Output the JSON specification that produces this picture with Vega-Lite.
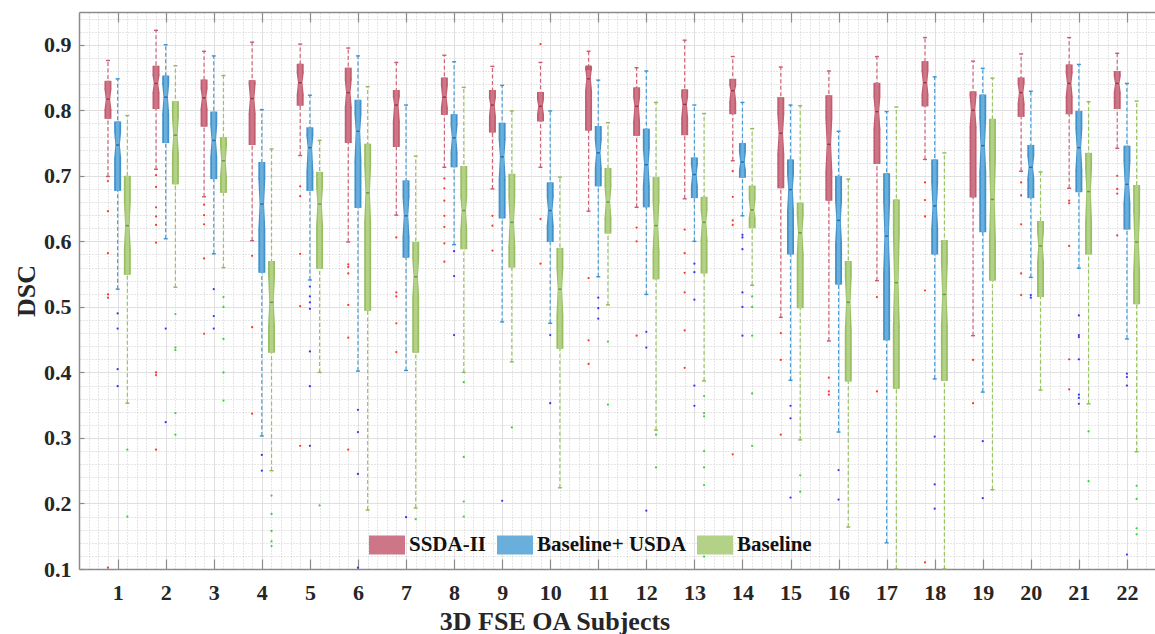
{
"$schema":"https://vega.github.io/schema/vega-lite/v6.json",
"width":1076,"height":557,
"autosize":{"type":"none"},
"padding":{"left":79,"top":12,"right":0,"bottom":65},
"background":"white",
"config":{"view":{"stroke":null},"font":"Liberation Serif"},
"datasets":{
"boxes":[
{"subject":1,"group":"SSDA-II","wlo":0.699,"q1":0.787,"nlo":0.801,"med":0.817,"nhi":0.832,"q3":0.845,"whi":0.876},
{"subject":1,"group":"Baseline+ USDA","wlo":0.527,"q1":0.677,"nlo":0.727,"med":0.747,"nhi":0.767,"q3":0.783,"whi":0.848},
{"subject":1,"group":"Baseline","wlo":0.353,"q1":0.549,"nlo":0.588,"med":0.624,"nhi":0.662,"q3":0.700,"whi":0.792},
{"subject":2,"group":"SSDA-II","wlo":0.710,"q1":0.802,"nlo":0.827,"med":0.841,"nhi":0.853,"q3":0.868,"whi":0.922},
{"subject":2,"group":"Baseline+ USDA","wlo":0.604,"q1":0.750,"nlo":0.794,"med":0.820,"nhi":0.840,"q3":0.853,"whi":0.900},
{"subject":2,"group":"Baseline","wlo":0.530,"q1":0.687,"nlo":0.733,"med":0.762,"nhi":0.790,"q3":0.814,"whi":0.868},
{"subject":3,"group":"SSDA-II","wlo":0.668,"q1":0.775,"nlo":0.802,"med":0.819,"nhi":0.833,"q3":0.847,"whi":0.890},
{"subject":3,"group":"Baseline+ USDA","wlo":0.581,"q1":0.695,"nlo":0.728,"med":0.754,"nhi":0.778,"q3":0.798,"whi":0.883},
{"subject":3,"group":"Baseline","wlo":0.560,"q1":0.674,"nlo":0.698,"med":0.723,"nhi":0.745,"q3":0.759,"whi":0.853},
{"subject":4,"group":"SSDA-II","wlo":0.601,"q1":0.747,"nlo":0.795,"med":0.818,"nhi":0.840,"q3":0.846,"whi":0.904},
{"subject":4,"group":"Baseline+ USDA","wlo":0.303,"q1":0.552,"nlo":0.618,"med":0.657,"nhi":0.695,"q3":0.721,"whi":0.801},
{"subject":4,"group":"Baseline","wlo":0.250,"q1":0.430,"nlo":0.470,"med":0.507,"nhi":0.547,"q3":0.570,"whi":0.741},
{"subject":5,"group":"SSDA-II","wlo":0.731,"q1":0.807,"nlo":0.824,"med":0.842,"nhi":0.857,"q3":0.871,"whi":0.901},
{"subject":5,"group":"Baseline+ USDA","wlo":0.541,"q1":0.677,"nlo":0.706,"med":0.743,"nhi":0.761,"q3":0.774,"whi":0.823},
{"subject":5,"group":"Baseline","wlo":0.400,"q1":0.558,"nlo":0.624,"med":0.657,"nhi":0.684,"q3":0.706,"whi":0.754},
{"subject":6,"group":"SSDA-II","wlo":0.599,"q1":0.750,"nlo":0.805,"med":0.827,"nhi":0.846,"q3":0.865,"whi":0.895},
{"subject":6,"group":"Baseline+ USDA","wlo":0.402,"q1":0.651,"nlo":0.723,"med":0.768,"nhi":0.794,"q3":0.816,"whi":0.883},
{"subject":6,"group":"Baseline","wlo":0.190,"q1":0.494,"nlo":0.629,"med":0.674,"nhi":0.717,"q3":0.749,"whi":0.836},
{"subject":7,"group":"SSDA-II","wlo":0.640,"q1":0.744,"nlo":0.783,"med":0.808,"nhi":0.821,"q3":0.831,"whi":0.873},
{"subject":7,"group":"Baseline+ USDA","wlo":0.403,"q1":0.575,"nlo":0.607,"med":0.639,"nhi":0.668,"q3":0.693,"whi":0.808},
{"subject":7,"group":"Baseline","wlo":0.193,"q1":0.430,"nlo":0.514,"med":0.546,"nhi":0.574,"q3":0.599,"whi":0.730},
{"subject":8,"group":"SSDA-II","wlo":0.713,"q1":0.793,"nlo":0.804,"med":0.820,"nhi":0.838,"q3":0.850,"whi":0.884},
{"subject":8,"group":"Baseline+ USDA","wlo":0.595,"q1":0.713,"nlo":0.736,"med":0.758,"nhi":0.777,"q3":0.794,"whi":0.874},
{"subject":8,"group":"Baseline","wlo":0.400,"q1":0.588,"nlo":0.617,"med":0.647,"nhi":0.668,"q3":0.715,"whi":0.835},
{"subject":9,"group":"SSDA-II","wlo":0.680,"q1":0.766,"nlo":0.791,"med":0.808,"nhi":0.819,"q3":0.831,"whi":0.867},
{"subject":9,"group":"Baseline+ USDA","wlo":0.477,"q1":0.635,"nlo":0.695,"med":0.729,"nhi":0.755,"q3":0.781,"whi":0.838},
{"subject":9,"group":"Baseline","wlo":0.416,"q1":0.560,"nlo":0.591,"med":0.629,"nhi":0.668,"q3":0.703,"whi":0.799},
{"subject":10,"group":"SSDA-II","wlo":0.713,"q1":0.783,"nlo":0.794,"med":0.806,"nhi":0.816,"q3":0.828,"whi":0.873},
{"subject":10,"group":"Baseline+ USDA","wlo":0.475,"q1":0.599,"nlo":0.624,"med":0.647,"nhi":0.668,"q3":0.690,"whi":0.799},
{"subject":10,"group":"Baseline","wlo":0.224,"q1":0.436,"nlo":0.486,"med":0.527,"nhi":0.560,"q3":0.590,"whi":0.698},
{"subject":11,"group":"SSDA-II","wlo":0.646,"q1":0.769,"nlo":0.830,"med":0.848,"nhi":0.866,"q3":0.861,"whi":0.890},
{"subject":11,"group":"Baseline+ USDA","wlo":0.546,"q1":0.684,"nlo":0.712,"med":0.735,"nhi":0.755,"q3":0.776,"whi":0.846},
{"subject":11,"group":"Baseline","wlo":0.503,"q1":0.612,"nlo":0.635,"med":0.660,"nhi":0.684,"q3":0.712,"whi":0.781},
{"subject":12,"group":"SSDA-II","wlo":0.652,"q1":0.761,"nlo":0.782,"med":0.806,"nhi":0.820,"q3":0.835,"whi":0.865},
{"subject":12,"group":"Baseline+ USDA","wlo":0.519,"q1":0.652,"nlo":0.684,"med":0.717,"nhi":0.742,"q3":0.772,"whi":0.860},
{"subject":12,"group":"Baseline","wlo":0.312,"q1":0.542,"nlo":0.585,"med":0.624,"nhi":0.662,"q3":0.698,"whi":0.812},
{"subject":13,"group":"SSDA-II","wlo":0.665,"q1":0.762,"nlo":0.788,"med":0.809,"nhi":0.821,"q3":0.832,"whi":0.907},
{"subject":13,"group":"Baseline+ USDA","wlo":0.600,"q1":0.666,"nlo":0.684,"med":0.702,"nhi":0.717,"q3":0.728,"whi":0.808},
{"subject":13,"group":"Baseline","wlo":0.387,"q1":0.551,"nlo":0.602,"med":0.629,"nhi":0.648,"q3":0.668,"whi":0.795},
{"subject":14,"group":"SSDA-II","wlo":0.723,"q1":0.794,"nlo":0.813,"med":0.830,"nhi":0.838,"q3":0.848,"whi":0.882},
{"subject":14,"group":"Baseline+ USDA","wlo":0.639,"q1":0.697,"nlo":0.709,"med":0.721,"nhi":0.736,"q3":0.750,"whi":0.812},
{"subject":14,"group":"Baseline","wlo":0.533,"q1":0.620,"nlo":0.635,"med":0.648,"nhi":0.665,"q3":0.685,"whi":0.772},
{"subject":15,"group":"SSDA-II","wlo":0.484,"q1":0.681,"nlo":0.733,"med":0.765,"nhi":0.794,"q3":0.820,"whi":0.866},
{"subject":15,"group":"Baseline+ USDA","wlo":0.388,"q1":0.580,"nlo":0.646,"med":0.679,"nhi":0.703,"q3":0.725,"whi":0.808},
{"subject":15,"group":"Baseline","wlo":0.297,"q1":0.498,"nlo":0.580,"med":0.613,"nhi":0.640,"q3":0.659,"whi":0.807},
{"subject":16,"group":"SSDA-II","wlo":0.448,"q1":0.662,"nlo":0.706,"med":0.748,"nhi":0.788,"q3":0.823,"whi":0.860},
{"subject":16,"group":"Baseline+ USDA","wlo":0.309,"q1":0.534,"nlo":0.596,"med":0.632,"nhi":0.662,"q3":0.700,"whi":0.768},
{"subject":16,"group":"Baseline","wlo":0.164,"q1":0.386,"nlo":0.464,"med":0.507,"nhi":0.547,"q3":0.570,"whi":0.695},
{"subject":17,"group":"SSDA-II","wlo":0.540,"q1":0.718,"nlo":0.772,"med":0.798,"nhi":0.821,"q3":0.842,"whi":0.882},
{"subject":17,"group":"Baseline+ USDA","wlo":0.140,"q1":0.449,"nlo":0.552,"med":0.608,"nhi":0.662,"q3":0.704,"whi":0.798},
{"subject":17,"group":"Baseline","wlo":0.100,"q1":0.375,"nlo":0.470,"med":0.537,"nhi":0.613,"q3":0.664,"whi":0.805},
{"subject":18,"group":"SSDA-II","wlo":0.725,"q1":0.806,"nlo":0.824,"med":0.842,"nhi":0.860,"q3":0.875,"whi":0.911},
{"subject":18,"group":"Baseline+ USDA","wlo":0.390,"q1":0.580,"nlo":0.618,"med":0.654,"nhi":0.690,"q3":0.725,"whi":0.851},
{"subject":18,"group":"Baseline","wlo":0.100,"q1":0.387,"nlo":0.470,"med":0.519,"nhi":0.569,"q3":0.602,"whi":0.735},
{"subject":19,"group":"SSDA-II","wlo":0.456,"q1":0.667,"nlo":0.775,"med":0.800,"nhi":0.823,"q3":0.829,"whi":0.875},
{"subject":19,"group":"Baseline+ USDA","wlo":0.370,"q1":0.614,"nlo":0.706,"med":0.746,"nhi":0.788,"q3":0.824,"whi":0.864},
{"subject":19,"group":"Baseline","wlo":0.221,"q1":0.540,"nlo":0.602,"med":0.664,"nhi":0.723,"q3":0.787,"whi":0.849},
{"subject":20,"group":"SSDA-II","wlo":0.707,"q1":0.790,"nlo":0.810,"med":0.827,"nhi":0.841,"q3":0.850,"whi":0.886},
{"subject":20,"group":"Baseline+ USDA","wlo":0.545,"q1":0.666,"nlo":0.695,"med":0.713,"nhi":0.731,"q3":0.747,"whi":0.829},
{"subject":20,"group":"Baseline","wlo":0.373,"q1":0.515,"nlo":0.569,"med":0.593,"nhi":0.615,"q3":0.631,"whi":0.706},
{"subject":21,"group":"SSDA-II","wlo":0.681,"q1":0.794,"nlo":0.821,"med":0.841,"nhi":0.857,"q3":0.870,"whi":0.911},
{"subject":21,"group":"Baseline+ USDA","wlo":0.559,"q1":0.675,"nlo":0.709,"med":0.743,"nhi":0.772,"q3":0.799,"whi":0.870},
{"subject":21,"group":"Baseline","wlo":0.352,"q1":0.580,"nlo":0.629,"med":0.676,"nhi":0.712,"q3":0.735,"whi":0.813},
{"subject":22,"group":"SSDA-II","wlo":0.742,"q1":0.802,"nlo":0.827,"med":0.841,"nhi":0.852,"q3":0.860,"whi":0.887},
{"subject":22,"group":"Baseline+ USDA","wlo":0.451,"q1":0.618,"nlo":0.657,"med":0.687,"nhi":0.723,"q3":0.746,"whi":0.841},
{"subject":22,"group":"Baseline","wlo":0.279,"q1":0.504,"nlo":0.552,"med":0.599,"nhi":0.646,"q3":0.686,"whi":0.814}
],
"outliers":[
{"subject":1,"group":"SSDA-II","v":0.692},{"subject":1,"group":"SSDA-II","v":0.646},{"subject":1,"group":"SSDA-II","v":0.582},{"subject":1,"group":"SSDA-II","v":0.519},{"subject":1,"group":"SSDA-II","v":0.514},{"subject":1,"group":"SSDA-II","v":0.102},
{"subject":1,"group":"Baseline+ USDA","v":0.490},{"subject":1,"group":"Baseline+ USDA","v":0.467},{"subject":1,"group":"Baseline+ USDA","v":0.405},{"subject":1,"group":"Baseline+ USDA","v":0.379},
{"subject":1,"group":"Baseline","v":0.282},{"subject":1,"group":"Baseline","v":0.180},
{"subject":2,"group":"SSDA-II","v":0.701},{"subject":2,"group":"SSDA-II","v":0.683},{"subject":2,"group":"SSDA-II","v":0.652},{"subject":2,"group":"SSDA-II","v":0.638},{"subject":2,"group":"SSDA-II","v":0.625},{"subject":2,"group":"SSDA-II","v":0.598},{"subject":2,"group":"SSDA-II","v":0.400},{"subject":2,"group":"SSDA-II","v":0.396},{"subject":2,"group":"SSDA-II","v":0.282},
{"subject":2,"group":"Baseline+ USDA","v":0.467},{"subject":2,"group":"Baseline+ USDA","v":0.324},
{"subject":2,"group":"Baseline","v":0.489},{"subject":2,"group":"Baseline","v":0.438},{"subject":2,"group":"Baseline","v":0.434},{"subject":2,"group":"Baseline","v":0.338},{"subject":2,"group":"Baseline","v":0.305},
{"subject":3,"group":"SSDA-II","v":0.656},{"subject":3,"group":"SSDA-II","v":0.640},{"subject":3,"group":"SSDA-II","v":0.626},{"subject":3,"group":"SSDA-II","v":0.574},{"subject":3,"group":"SSDA-II","v":0.459},
{"subject":3,"group":"Baseline+ USDA","v":0.527},{"subject":3,"group":"Baseline+ USDA","v":0.486},{"subject":3,"group":"Baseline+ USDA","v":0.467},
{"subject":3,"group":"Baseline","v":0.515},{"subject":3,"group":"Baseline","v":0.500},{"subject":3,"group":"Baseline","v":0.451},{"subject":3,"group":"Baseline","v":0.400},{"subject":3,"group":"Baseline","v":0.357},
{"subject":4,"group":"SSDA-II","v":0.578},{"subject":4,"group":"SSDA-II","v":0.469},{"subject":4,"group":"SSDA-II","v":0.337},
{"subject":4,"group":"Baseline+ USDA","v":0.274},{"subject":4,"group":"Baseline+ USDA","v":0.250},
{"subject":4,"group":"Baseline","v":0.212},{"subject":4,"group":"Baseline","v":0.184},{"subject":4,"group":"Baseline","v":0.158},{"subject":4,"group":"Baseline","v":0.142},{"subject":4,"group":"Baseline","v":0.135},
{"subject":5,"group":"SSDA-II","v":0.684},{"subject":5,"group":"SSDA-II","v":0.669},{"subject":5,"group":"SSDA-II","v":0.581},{"subject":5,"group":"SSDA-II","v":0.501},{"subject":5,"group":"SSDA-II","v":0.288},
{"subject":5,"group":"Baseline+ USDA","v":0.531},{"subject":5,"group":"Baseline+ USDA","v":0.516},{"subject":5,"group":"Baseline+ USDA","v":0.507},{"subject":5,"group":"Baseline+ USDA","v":0.497},{"subject":5,"group":"Baseline+ USDA","v":0.432},{"subject":5,"group":"Baseline+ USDA","v":0.379},{"subject":5,"group":"Baseline+ USDA","v":0.288},
{"subject":5,"group":"Baseline","v":0.197},
{"subject":6,"group":"SSDA-II","v":0.565},{"subject":6,"group":"SSDA-II","v":0.561},{"subject":6,"group":"SSDA-II","v":0.551},{"subject":6,"group":"SSDA-II","v":0.503},{"subject":6,"group":"SSDA-II","v":0.453},{"subject":6,"group":"SSDA-II","v":0.282},
{"subject":6,"group":"Baseline+ USDA","v":0.343},{"subject":6,"group":"Baseline+ USDA","v":0.309},{"subject":6,"group":"Baseline+ USDA","v":0.245},{"subject":6,"group":"Baseline+ USDA","v":0.102},
{"subject":7,"group":"SSDA-II","v":0.606},{"subject":7,"group":"SSDA-II","v":0.522},{"subject":7,"group":"SSDA-II","v":0.516},{"subject":7,"group":"SSDA-II","v":0.475},{"subject":7,"group":"SSDA-II","v":0.431},
{"subject":7,"group":"Baseline+ USDA","v":0.179},
{"subject":7,"group":"Baseline","v":0.176},
{"subject":8,"group":"SSDA-II","v":0.696},{"subject":8,"group":"SSDA-II","v":0.681},{"subject":8,"group":"SSDA-II","v":0.662},{"subject":8,"group":"SSDA-II","v":0.639},{"subject":8,"group":"SSDA-II","v":0.622},{"subject":8,"group":"SSDA-II","v":0.597},{"subject":8,"group":"SSDA-II","v":0.569},
{"subject":8,"group":"Baseline+ USDA","v":0.585},{"subject":8,"group":"Baseline+ USDA","v":0.547},{"subject":8,"group":"Baseline+ USDA","v":0.457},
{"subject":8,"group":"Baseline","v":0.385},{"subject":8,"group":"Baseline","v":0.271},{"subject":8,"group":"Baseline","v":0.203},{"subject":8,"group":"Baseline","v":0.180},
{"subject":9,"group":"SSDA-II","v":0.639},{"subject":9,"group":"SSDA-II","v":0.624},{"subject":9,"group":"SSDA-II","v":0.586},
{"subject":9,"group":"Baseline+ USDA","v":0.204},
{"subject":9,"group":"Baseline","v":0.316},
{"subject":10,"group":"SSDA-II","v":0.901},{"subject":10,"group":"SSDA-II","v":0.634},{"subject":10,"group":"SSDA-II","v":0.566},
{"subject":10,"group":"Baseline+ USDA","v":0.457},{"subject":10,"group":"Baseline+ USDA","v":0.353},
{"subject":11,"group":"SSDA-II","v":0.544},{"subject":11,"group":"SSDA-II","v":0.449},{"subject":11,"group":"SSDA-II","v":0.413},
{"subject":11,"group":"Baseline+ USDA","v":0.514},{"subject":11,"group":"Baseline+ USDA","v":0.498},{"subject":11,"group":"Baseline+ USDA","v":0.482},
{"subject":11,"group":"Baseline","v":0.447},{"subject":11,"group":"Baseline","v":0.351},
{"subject":12,"group":"SSDA-II","v":0.621},{"subject":12,"group":"SSDA-II","v":0.600},{"subject":12,"group":"SSDA-II","v":0.456},
{"subject":12,"group":"Baseline+ USDA","v":0.462},{"subject":12,"group":"Baseline+ USDA","v":0.438},{"subject":12,"group":"Baseline+ USDA","v":0.189},
{"subject":12,"group":"Baseline","v":0.305},{"subject":12,"group":"Baseline","v":0.255},
{"subject":13,"group":"SSDA-II","v":0.618},{"subject":13,"group":"SSDA-II","v":0.582},{"subject":13,"group":"SSDA-II","v":0.552},{"subject":13,"group":"SSDA-II","v":0.522},{"subject":13,"group":"SSDA-II","v":0.464},{"subject":13,"group":"SSDA-II","v":0.407},
{"subject":13,"group":"Baseline+ USDA","v":0.566},{"subject":13,"group":"Baseline+ USDA","v":0.553},{"subject":13,"group":"Baseline+ USDA","v":0.511},{"subject":13,"group":"Baseline+ USDA","v":0.380},{"subject":13,"group":"Baseline+ USDA","v":0.349},
{"subject":13,"group":"Baseline","v":0.364},{"subject":13,"group":"Baseline","v":0.338},{"subject":13,"group":"Baseline","v":0.333},{"subject":13,"group":"Baseline","v":0.280},{"subject":13,"group":"Baseline","v":0.255},{"subject":13,"group":"Baseline","v":0.228},{"subject":13,"group":"Baseline","v":0.119},
{"subject":14,"group":"SSDA-II","v":0.707},{"subject":14,"group":"SSDA-II","v":0.668},{"subject":14,"group":"SSDA-II","v":0.632},{"subject":14,"group":"SSDA-II","v":0.625},{"subject":14,"group":"SSDA-II","v":0.275},
{"subject":14,"group":"Baseline+ USDA","v":0.610},{"subject":14,"group":"Baseline+ USDA","v":0.606},{"subject":14,"group":"Baseline+ USDA","v":0.588},{"subject":14,"group":"Baseline+ USDA","v":0.522},{"subject":14,"group":"Baseline+ USDA","v":0.500},{"subject":14,"group":"Baseline+ USDA","v":0.456},
{"subject":14,"group":"Baseline","v":0.516},{"subject":14,"group":"Baseline","v":0.500},{"subject":14,"group":"Baseline","v":0.456},{"subject":14,"group":"Baseline","v":0.368},{"subject":14,"group":"Baseline","v":0.288},
{"subject":15,"group":"SSDA-II","v":0.460},{"subject":15,"group":"SSDA-II","v":0.419},{"subject":15,"group":"SSDA-II","v":0.305},
{"subject":15,"group":"Baseline+ USDA","v":0.349},{"subject":15,"group":"Baseline+ USDA","v":0.330},{"subject":15,"group":"Baseline+ USDA","v":0.209},
{"subject":15,"group":"Baseline","v":0.243},{"subject":15,"group":"Baseline","v":0.218},
{"subject":16,"group":"SSDA-II","v":0.392},{"subject":16,"group":"SSDA-II","v":0.371},{"subject":16,"group":"SSDA-II","v":0.366},
{"subject":16,"group":"Baseline+ USDA","v":0.251},{"subject":16,"group":"Baseline+ USDA","v":0.206},
{"subject":17,"group":"SSDA-II","v":0.515},{"subject":17,"group":"SSDA-II","v":0.371},
{"subject":18,"group":"SSDA-II","v":0.690},{"subject":18,"group":"SSDA-II","v":0.663},{"subject":18,"group":"SSDA-II","v":0.638},{"subject":18,"group":"SSDA-II","v":0.525},{"subject":18,"group":"SSDA-II","v":0.110},
{"subject":18,"group":"Baseline+ USDA","v":0.302},{"subject":18,"group":"Baseline+ USDA","v":0.229},{"subject":18,"group":"Baseline+ USDA","v":0.192},
{"subject":19,"group":"SSDA-II","v":0.419},{"subject":19,"group":"SSDA-II","v":0.353},
{"subject":19,"group":"Baseline+ USDA","v":0.295},{"subject":19,"group":"Baseline+ USDA","v":0.208},
{"subject":20,"group":"SSDA-II","v":0.690},{"subject":20,"group":"SSDA-II","v":0.670},{"subject":20,"group":"SSDA-II","v":0.626},{"subject":20,"group":"SSDA-II","v":0.551},{"subject":20,"group":"SSDA-II","v":0.518},
{"subject":20,"group":"Baseline+ USDA","v":0.518},{"subject":20,"group":"Baseline+ USDA","v":0.514},
{"subject":21,"group":"SSDA-II","v":0.662},{"subject":21,"group":"SSDA-II","v":0.658},{"subject":21,"group":"SSDA-II","v":0.593},{"subject":21,"group":"SSDA-II","v":0.420},{"subject":21,"group":"SSDA-II","v":0.374},
{"subject":21,"group":"Baseline+ USDA","v":0.487},{"subject":21,"group":"Baseline+ USDA","v":0.457},{"subject":21,"group":"Baseline+ USDA","v":0.454},{"subject":21,"group":"Baseline+ USDA","v":0.420},{"subject":21,"group":"Baseline+ USDA","v":0.366},{"subject":21,"group":"Baseline+ USDA","v":0.361},{"subject":21,"group":"Baseline+ USDA","v":0.352},
{"subject":21,"group":"Baseline","v":0.310},{"subject":21,"group":"Baseline","v":0.234},
{"subject":22,"group":"SSDA-II","v":0.700},{"subject":22,"group":"SSDA-II","v":0.680},{"subject":22,"group":"SSDA-II","v":0.673},{"subject":22,"group":"SSDA-II","v":0.609},
{"subject":22,"group":"Baseline+ USDA","v":0.398},{"subject":22,"group":"Baseline+ USDA","v":0.393},{"subject":22,"group":"Baseline+ USDA","v":0.380},{"subject":22,"group":"Baseline+ USDA","v":0.122},
{"subject":22,"group":"Baseline","v":0.227},{"subject":22,"group":"Baseline","v":0.207},{"subject":22,"group":"Baseline","v":0.162},{"subject":22,"group":"Baseline","v":0.153}
]
},
"data":{"name":"boxes"},
"encoding":{"x":{"field":"subject","type":"quantitative","axis":null}},
"layer":[
{"mark":{"type":"point","opacity":0},
 "encoding":{
  "x":{"field":"subject","type":"quantitative","scale":{"domain":[0.3,22.48],"nice":false,"zero":false},
   "axis":{"orient":"bottom","values":[1,2,3,4,5,6,7,8,9,10,11,12,13,14,15,16,17,18,19,20,21,22],"format":"d","title":"3D FSE OA Subjects","grid":true,"gridColor":"#e0e0e0","gridWidth":1,"ticks":false,"domain":true,"domainColor":"#8c8c8c","domainWidth":1.5,"labelFont":"Liberation Serif","labelFontWeight":"bold","labelFontSize":22,"labelColor":"#262626","labelPadding":13.5,"labelFlush":false,"labelOverlap":false,"titleFont":"Liberation Serif","titleFontWeight":"bold","titleFontSize":26,"titleColor":"#262626","titleX":475.5,"titleY":60,"titleBaseline":"alphabetic"}},
  "y":{"field":"med","type":"quantitative","scale":{"domain":[0.1,0.95],"nice":false,"zero":false},
   "axis":{"orient":"left","values":[0.1,0.2,0.3,0.4,0.5,0.6,0.7,0.8,0.9],"format":".1f","title":"DSC","grid":true,"gridColor":"#e0e0e0","gridWidth":1,"ticks":false,"domain":true,"domainColor":"#8c8c8c","domainWidth":1.5,"labelFont":"Liberation Serif","labelFontWeight":"bold","labelFontSize":22,"labelColor":"#262626","labelPadding":8,"titleFont":"Liberation Serif","titleFontWeight":"bold","titleFontSize":26,"titleColor":"#262626","titlePadding":4}}}},
{"mark":{"type":"point","opacity":0},
 "encoding":{
  "x":{"field":"subject","type":"quantitative","axis":{"orient":"bottom","values":[1,2,3,4,5,6,7,8,9,10,11,12,13,14,15,16,17,18,19,20,21,22],"labels":false,"ticks":true,"tickSize":-10,"tickColor":"#8c8c8c","tickWidth":1.2,"domain":false,"grid":false,"title":null}},
  "y":{"field":"med","type":"quantitative","axis":{"orient":"left","values":[0.1,0.2,0.3,0.4,0.5,0.6,0.7,0.8,0.9],"labels":false,"ticks":true,"tickSize":-5,"tickColor":"#8c8c8c","tickWidth":1.2,"domain":false,"grid":false,"title":null}}}},
{"mark":{"type":"point","opacity":0},
 "encoding":{
  "x":{"field":"subject","type":"quantitative","axis":{"orient":"top","values":[1,2,3,4,5,6,7,8,9,10,11,12,13,14,15,16,17,18,19,20,21,22],"labels":false,"ticks":true,"tickSize":-10,"tickColor":"#8c8c8c","tickWidth":1.2,"domain":true,"domainColor":"#8c8c8c","domainWidth":1.5,"grid":false,"title":null}},
  "y":{"field":"med","type":"quantitative","axis":{"orient":"right","values":[0.12,0.14,0.16,0.18,0.22,0.24,0.26,0.28,0.32,0.34,0.36,0.38,0.42,0.44,0.46,0.48,0.52,0.54,0.56,0.58,0.62,0.64,0.66,0.68,0.72,0.74,0.76,0.78,0.82,0.84,0.86,0.88,0.92,0.94],"labels":false,"ticks":false,"domain":false,"grid":true,"gridColor":"#cdcdcd","gridDash":[1,2],"gridWidth":1,"title":null}}}},
{"mark":{"type":"point","opacity":0},
 "encoding":{
  "x":{"field":"subject","type":"quantitative","axis":{"orient":"top","values":[0.4,0.6,0.8,1.2,1.4,1.6,1.8,2.2,2.4,2.6,2.8,3.2,3.4,3.6,3.8,4.2,4.4,4.6,4.8,5.2,5.4,5.6,5.8,6.2,6.4,6.6,6.8,7.2,7.4,7.6,7.8,8.2,8.4,8.6,8.8,9.2,9.4,9.6,9.8,10.2,10.4,10.6,10.8,11.2,11.4,11.6,11.8,12.2,12.4,12.6,12.8,13.2,13.4,13.6,13.8,14.2,14.4,14.6,14.8,15.2,15.4,15.6,15.8,16.2,16.4,16.6,16.8,17.2,17.4,17.6,17.8,18.2,18.4,18.6,18.8,19.2,19.4,19.6,19.8,20.2,20.4,20.6,20.8,21.2,21.4,21.6,21.8,22.2,22.4],"labels":false,"ticks":false,"domain":false,"grid":true,"gridColor":"#cdcdcd","gridDash":[1,2],"gridWidth":1,"title":null}},
  "y":{"field":"med","type":"quantitative","axis":null}}},

{"transform":[{"filter":"datum.group === 'SSDA-II'"}],"mark":{"type":"rule","xOffset":-9.7,"color":"#D26478","strokeWidth":1.2,"strokeDash":[4,2.5]},"encoding":{"y":{"field":"wlo","type":"quantitative","axis":null},"y2":{"field":"whi"}}},
{"transform":[{"filter":"datum.group === 'Baseline+ USDA'"}],"mark":{"type":"rule","xOffset":0,"color":"#4A9FD8","strokeWidth":1.2,"strokeDash":[4,2.5]},"encoding":{"y":{"field":"wlo","type":"quantitative","axis":null},"y2":{"field":"whi"}}},
{"transform":[{"filter":"datum.group === 'Baseline'"}],"mark":{"type":"rule","xOffset":9.7,"color":"#98C65E","strokeWidth":1.2,"strokeDash":[4,2.5]},"encoding":{"y":{"field":"wlo","type":"quantitative","axis":null},"y2":{"field":"whi"}}},

{"transform":[{"filter":"datum.group === 'SSDA-II'"},{"fold":["wlo","whi"],"as":["end","v"]}],"mark":{"type":"tick","orient":"horizontal","xOffset":-9.7,"size":4,"thickness":1.4,"color":"#C85A70","opacity":1},"encoding":{"y":{"field":"v","type":"quantitative","axis":null}}},
{"transform":[{"filter":"datum.group === 'Baseline+ USDA'"},{"fold":["wlo","whi"],"as":["end","v"]}],"mark":{"type":"tick","orient":"horizontal","xOffset":0,"size":4,"thickness":1.4,"color":"#3A92CF","opacity":1},"encoding":{"y":{"field":"v","type":"quantitative","axis":null}}},
{"transform":[{"filter":"datum.group === 'Baseline'"},{"fold":["wlo","whi"],"as":["end","v"]}],"mark":{"type":"tick","orient":"horizontal","xOffset":9.7,"size":4,"thickness":1.4,"color":"#8CBC52","opacity":1},"encoding":{"y":{"field":"v","type":"quantitative","axis":null}}},

{"transform":[{"filter":"datum.group === 'SSDA-II'"}],"mark":{"type":"bar","xOffset":-9.7,"width":7,"color":"#C35C6E"},"encoding":{"y":{"field":"q1","type":"quantitative","axis":null},"y2":{"field":"nlo"}}},
{"transform":[{"filter":"datum.group === 'SSDA-II'"}],"mark":{"type":"bar","xOffset":-9.7,"width":7,"color":"#C35C6E"},"encoding":{"y":{"field":"nhi","type":"quantitative","axis":null},"y2":{"field":"q3"}}},
{"transform":[{"filter":"datum.group === 'Baseline+ USDA'"}],"mark":{"type":"bar","xOffset":0,"width":7,"color":"#4092CC"},"encoding":{"y":{"field":"q1","type":"quantitative","axis":null},"y2":{"field":"nlo"}}},
{"transform":[{"filter":"datum.group === 'Baseline+ USDA'"}],"mark":{"type":"bar","xOffset":0,"width":7,"color":"#4092CC"},"encoding":{"y":{"field":"nhi","type":"quantitative","axis":null},"y2":{"field":"q3"}}},
{"transform":[{"filter":"datum.group === 'Baseline'"}],"mark":{"type":"bar","xOffset":9.7,"width":7,"color":"#98C061"},"encoding":{"y":{"field":"q1","type":"quantitative","axis":null},"y2":{"field":"nlo"}}},
{"transform":[{"filter":"datum.group === 'Baseline'"}],"mark":{"type":"bar","xOffset":9.7,"width":7,"color":"#98C061"},"encoding":{"y":{"field":"nhi","type":"quantitative","axis":null},"y2":{"field":"q3"}}},

{"transform":[{"filter":"datum.group === 'SSDA-II'"},{"fold":["nlo","med","nhi"],"as":["part","v"]}],"mark":{"type":"trail","xOffset":-11.45,"color":"#C35C6E"},"encoding":{"y":{"field":"v","type":"quantitative","axis":null},"size":{"condition":{"test":"datum.part === 'med'","value":0},"value":3.5},"order":{"field":"v","type":"quantitative"},"detail":{"field":"subject","type":"quantitative"}}},
{"transform":[{"filter":"datum.group === 'SSDA-II'"},{"fold":["nlo","med","nhi"],"as":["part","v"]}],"mark":{"type":"trail","xOffset":-7.95,"color":"#C35C6E"},"encoding":{"y":{"field":"v","type":"quantitative","axis":null},"size":{"condition":{"test":"datum.part === 'med'","value":0},"value":3.5},"order":{"field":"v","type":"quantitative"},"detail":{"field":"subject","type":"quantitative"}}},
{"transform":[{"filter":"datum.group === 'Baseline+ USDA'"},{"fold":["nlo","med","nhi"],"as":["part","v"]}],"mark":{"type":"trail","xOffset":-1.75,"color":"#4092CC"},"encoding":{"y":{"field":"v","type":"quantitative","axis":null},"size":{"condition":{"test":"datum.part === 'med'","value":0},"value":3.5},"order":{"field":"v","type":"quantitative"},"detail":{"field":"subject","type":"quantitative"}}},
{"transform":[{"filter":"datum.group === 'Baseline+ USDA'"},{"fold":["nlo","med","nhi"],"as":["part","v"]}],"mark":{"type":"trail","xOffset":1.75,"color":"#4092CC"},"encoding":{"y":{"field":"v","type":"quantitative","axis":null},"size":{"condition":{"test":"datum.part === 'med'","value":0},"value":3.5},"order":{"field":"v","type":"quantitative"},"detail":{"field":"subject","type":"quantitative"}}},
{"transform":[{"filter":"datum.group === 'Baseline'"},{"fold":["nlo","med","nhi"],"as":["part","v"]}],"mark":{"type":"trail","xOffset":7.95,"color":"#98C061"},"encoding":{"y":{"field":"v","type":"quantitative","axis":null},"size":{"condition":{"test":"datum.part === 'med'","value":0},"value":3.5},"order":{"field":"v","type":"quantitative"},"detail":{"field":"subject","type":"quantitative"}}},
{"transform":[{"filter":"datum.group === 'Baseline'"},{"fold":["nlo","med","nhi"],"as":["part","v"]}],"mark":{"type":"trail","xOffset":11.45,"color":"#98C061"},"encoding":{"y":{"field":"v","type":"quantitative","axis":null},"size":{"condition":{"test":"datum.part === 'med'","value":0},"value":3.5},"order":{"field":"v","type":"quantitative"},"detail":{"field":"subject","type":"quantitative"}}},

{"transform":[{"filter":"datum.group === 'SSDA-II'"}],"mark":{"type":"bar","xOffset":-9.7,"width":3.5},"encoding":{"y":{"field":"q1","type":"quantitative","axis":null},"y2":{"field":"q3"},"color":{"field":"group","type":"nominal","scale":{"domain":["SSDA-II","Baseline+ USDA","Baseline"],"range":["#CD7687","#6AAEDB","#B3D287"]},"legend":{"orient":"none","legendX":290,"legendY":515,"direction":"horizontal","title":null,"symbolType":"M-1,-0.53H1V0.53H-1Z","symbolSize":1296,"symbolStrokeWidth":0,"symbolOpacity":1,"labelFont":"Liberation Serif","labelFontWeight":"bold","labelFontSize":21,"labelColor":"#111111","labelOffset":4,"labelLimit":300,"columnPadding":10}}}},
{"transform":[{"filter":"datum.group === 'Baseline+ USDA'"}],"mark":{"type":"bar","xOffset":0,"width":3.5},"encoding":{"y":{"field":"q1","type":"quantitative","axis":null},"y2":{"field":"q3"},"color":{"field":"group","type":"nominal","scale":{"domain":["SSDA-II","Baseline+ USDA","Baseline"],"range":["#CD7687","#6AAEDB","#B3D287"]},"legend":{"orient":"none","legendX":290,"legendY":515,"direction":"horizontal","title":null,"symbolType":"M-1,-0.53H1V0.53H-1Z","symbolSize":1296,"symbolStrokeWidth":0,"symbolOpacity":1,"labelFont":"Liberation Serif","labelFontWeight":"bold","labelFontSize":21,"labelColor":"#111111","labelOffset":4,"labelLimit":300,"columnPadding":10}}}},
{"transform":[{"filter":"datum.group === 'Baseline'"}],"mark":{"type":"bar","xOffset":9.7,"width":3.5},"encoding":{"y":{"field":"q1","type":"quantitative","axis":null},"y2":{"field":"q3"},"color":{"field":"group","type":"nominal","scale":{"domain":["SSDA-II","Baseline+ USDA","Baseline"],"range":["#CD7687","#6AAEDB","#B3D287"]},"legend":{"orient":"none","legendX":290,"legendY":515,"direction":"horizontal","title":null,"symbolType":"M-1,-0.53H1V0.53H-1Z","symbolSize":1296,"symbolStrokeWidth":0,"symbolOpacity":1,"labelFont":"Liberation Serif","labelFontWeight":"bold","labelFontSize":21,"labelColor":"#111111","labelOffset":4,"labelLimit":300,"columnPadding":10}}}},

{"transform":[{"filter":"datum.group === 'SSDA-II'"}],"mark":{"type":"tick","orient":"horizontal","xOffset":-9.7,"size":3.5,"thickness":1.5,"color":"#A3344F","opacity":1},"encoding":{"y":{"field":"med","type":"quantitative","axis":null}}},
{"transform":[{"filter":"datum.group === 'Baseline+ USDA'"}],"mark":{"type":"tick","orient":"horizontal","xOffset":0,"size":3.5,"thickness":1.5,"color":"#2470B0","opacity":1},"encoding":{"y":{"field":"med","type":"quantitative","axis":null}}},
{"transform":[{"filter":"datum.group === 'Baseline'"}],"mark":{"type":"tick","orient":"horizontal","xOffset":9.7,"size":3.5,"thickness":1.5,"color":"#6E9C3A","opacity":1},"encoding":{"y":{"field":"med","type":"quantitative","axis":null}}},

{"data":{"name":"outliers"},"transform":[{"filter":"datum.group === 'SSDA-II'"}],"mark":{"type":"circle","xOffset":-9.7,"size":5,"color":"#FF2020","opacity":0.9},"encoding":{"y":{"field":"v","type":"quantitative","axis":null}}},
{"data":{"name":"outliers"},"transform":[{"filter":"datum.group === 'Baseline+ USDA'"}],"mark":{"type":"circle","xOffset":0,"size":5,"color":"#2020FF","opacity":0.9},"encoding":{"y":{"field":"v","type":"quantitative","axis":null}}},
{"data":{"name":"outliers"},"transform":[{"filter":"datum.group === 'Baseline'"}],"mark":{"type":"circle","xOffset":9.7,"size":5,"color":"#20D020","opacity":0.9},"encoding":{"y":{"field":"v","type":"quantitative","axis":null}}}
],
"resolve":{"axis":{"x":"independent","y":"independent"}}
}
